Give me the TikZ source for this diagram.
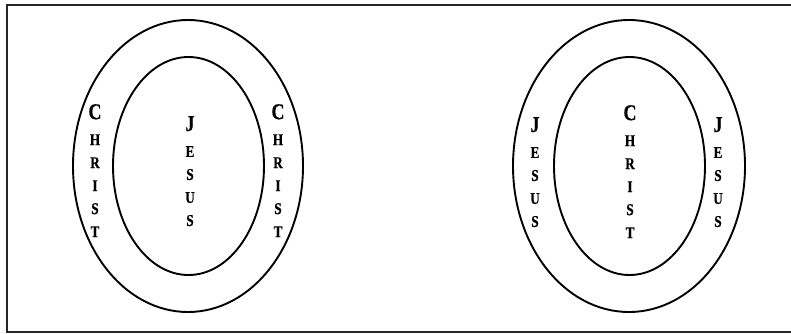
\documentclass[tikz,border=0pt]{standalone}
\usepackage{fontspec}
\setmainfont{Liberation Serif}
\newfontfamily\wordfont[FakeStretch=0.8,FakeBold=0.6]{Liberation Serif}
\usetikzlibrary{shapes.geometric}
\newcommand\bigletter[1]{{\fontsize{22.5}{23}\selectfont #1}\\[3pt]}

\begin{document}
\begin{tikzpicture}[
  x=1pt, y=-1pt,
  ring/.style={draw, ellipse, line width=1.9pt, inner sep=0pt},
  word/.style={anchor=north, align=center, inner sep=0pt,
    font=\wordfont\bfseries\fontsize{16.5}{23}\selectfont},
  frame/.style={line width=2.4pt, black!85}
]
\useasboundingbox (0,0) rectangle (791,333);
\draw[frame] (795,5) -- (7,5) -- (7,332) -- (795,332);

% left pair: Christ round Jesus
\node[ring, minimum width=230pt, minimum height=292pt] (outerL) at (188,166) {};
\node[ring, minimum width=151pt, minimum height=218pt] (innerL) at (188.5,166) {};
\node[word] (christLa) at (95,104) {\bigletter{C}H\\R\\I\\S\\T};
\node[word] (christLb) at (278,104) {\bigletter{C}H\\R\\I\\S\\T};
\node[word] (jesusL) at (190,116) {\bigletter{J}E\\S\\U\\S};

% right pair: Jesus round Christ
\node[ring, minimum width=232pt, minimum height=292pt] (outerR) at (629,166) {};
\node[ring, minimum width=151pt, minimum height=218pt] (innerR) at (629.5,166) {};
\node[word] (jesusRa) at (535,117) {\bigletter{J}E\\S\\U\\S};
\node[word] (jesusRb) at (718,117) {\bigletter{J}E\\S\\U\\S};
\node[word] (christR) at (630,105) {\bigletter{C}H\\R\\I\\S\\T};
\end{tikzpicture}
\end{document}
